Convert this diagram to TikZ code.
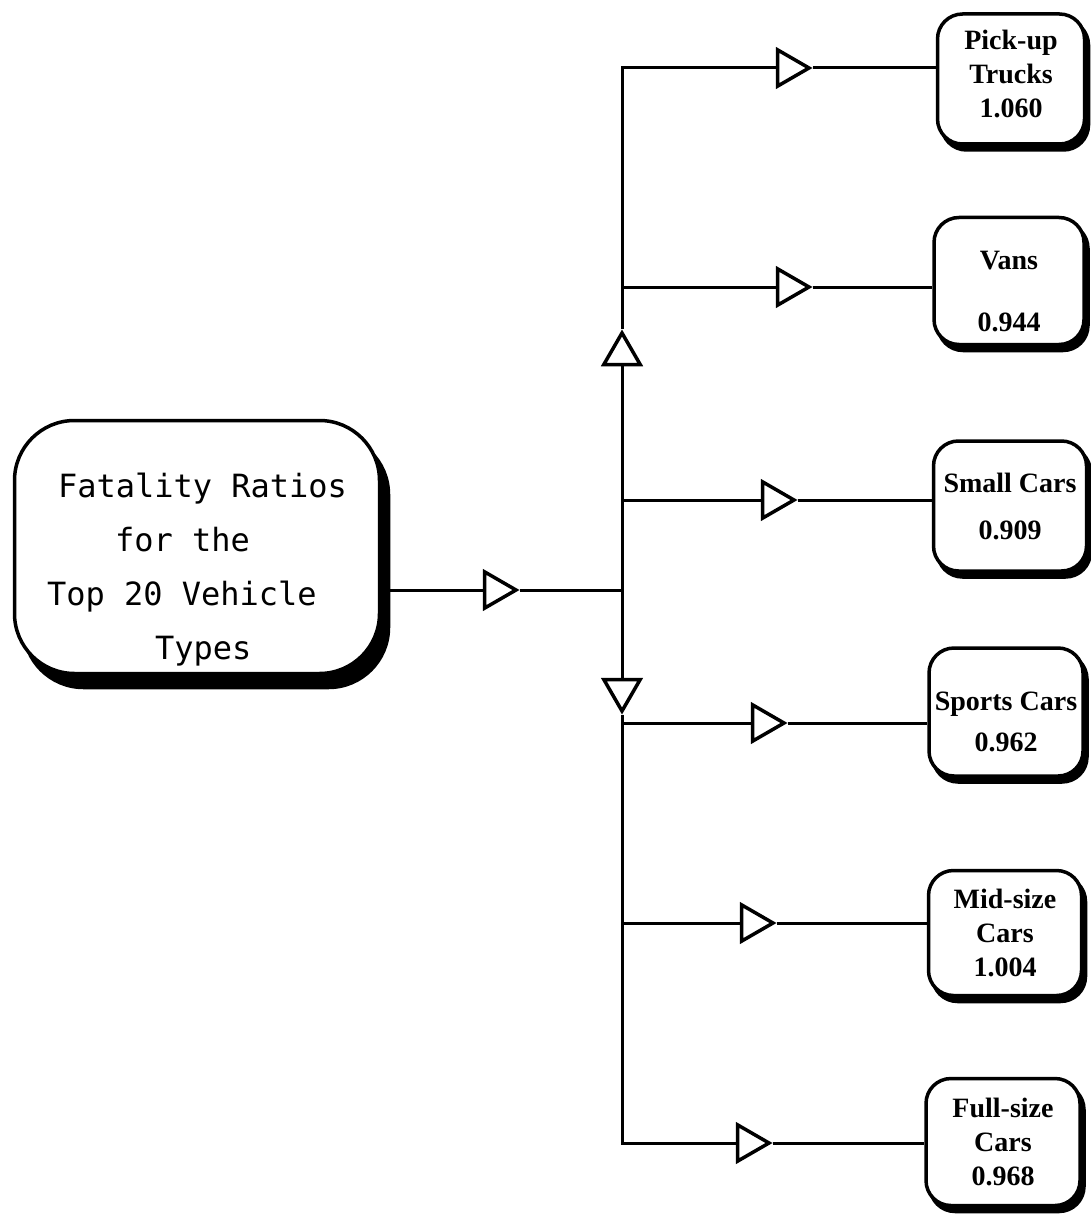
\documentclass[tikz,border=0pt]{standalone}
\usepackage{fontspec}
\newfontfamily\leftfont{DejaVu Sans Mono}
\newfontfamily\rightfont{Liberation Serif}
\usetikzlibrary{shapes.geometric,shadows}
\newdimen\px \px=0.75pt
\begin{document}
\begin{tikzpicture}[x=0.75pt,y=-0.75pt,
  conn/.style={line width=3\px},
  mainbox/.style={draw, line width=3.5\px, fill=white, rounded corners=60\px,
    minimum width=365\px, minimum height=253\px, inner sep=0pt, align=left,
    font=\leftfont\fontsize{24}{40.5}\selectfont,
    general shadow={fill=black, draw=black, shadow xshift=9\px, shadow yshift=-14\px}},
  rbox/.style={draw, line width=3.5\px, fill=white, rounded corners=25\px,
    minimum width=150\px, minimum height=127\px, inner sep=0pt, align=center,
    font=\rightfont\bfseries\fontsize{21}{25.5}\selectfont,
    general shadow={fill=black, draw=black, shadow xshift=4\px, shadow yshift=-6\px}},
  tri/.style={regular polygon, regular polygon sides=3, draw, fill=white,
    line width=3.5\px, minimum size=42\px, inner sep=0pt},
  triR/.style={tri, shape border rotate=-90},
  triU/.style={tri},
  triD/.style={tri, shape border rotate=180}]
\fill[white] (0,0) rectangle (1091,1216);
\useasboundingbox (0,0) rectangle (1091,1216);

% boxes
\node[mainbox] (main) at (197,547) {\rule{0pt}{70\px}\hspace*{11\px}Fatality Ratios\\
\hspace*{68\px}for the\\
Top 20 Vehicle\\
\hspace*{108\px}Types};
\node[rbox, minimum width=147\px, minimum height=130\px] (box1) at (1011,79) {Pick-up\\Trucks\\1.060\rule[-10\px]{0pt}{0pt}};
\node[rbox, minimum width=150\px] (box2) at (1009,281) {\rule{0pt}{39\px}Vans\\[28\px]0.944};
\node[rbox, minimum width=153\px, minimum height=130\px] (box3) at (1010,506) {Small Cars\\[13\px]0.909};
\node[rbox, minimum width=154\px, minimum height=128\px] (box4) at (1006,712) {\rule{0pt}{39\px}Sports Cars\\[7\px]0.962};
\node[rbox, minimum width=153\px, minimum height=125\px] (box5) at (1005,933) {Mid-size\\Cars\\1.004};
\node[rbox, minimum width=154\px, minimum height=127\px] (box6) at (1003,1142) {Full-size\\Cars\\0.968};

% bus points
\coordinate (b1) at (622,68);
\coordinate (b2) at (622,287);
\coordinate (b3) at (622,500);
\coordinate (j)  at (622,590);
\coordinate (b4) at (622,723);
\coordinate (b5) at (622,923);
\coordinate (b6) at (622,1143);

% triangles
\node[triR] (tm) at (495,590) {};
\node[triR] (t1) at (788,68) {};
\node[triR] (t2) at (788,287) {};
\node[triR] (t3) at (773,500) {};
\node[triR] (t4) at (763,723) {};
\node[triR] (t5) at (752,923) {};
\node[triR] (t6) at (748,1143) {};
\node[triU] (tu) at (622,354) {};
\node[triD] (td) at (622,690) {};

% connectors
\draw[conn] (main.east |- tm) -- (tm);
\draw[conn] (tm) -- (j);
\draw[conn] (t1) -- (b1) -- (tu);
\draw[conn] (tu) -- (td);
\draw[conn] (td) -- (b6) -- (t6);
\draw[conn] (b2) -- (t2);
\draw[conn] (b3) -- (t3);
\draw[conn] (b4) -- (t4);
\draw[conn] (b5) -- (t5);
\draw[conn] (t1) -- (t1 -| box1.west);
\draw[conn] (t2) -- (t2 -| box2.west);
\draw[conn] (t3) -- (t3 -| box3.west);
\draw[conn] (t4) -- (t4 -| box4.west);
\draw[conn] (t5) -- (t5 -| box5.west);
\draw[conn] (t6) -- (t6 -| box6.west);
\end{tikzpicture}
\end{document}
